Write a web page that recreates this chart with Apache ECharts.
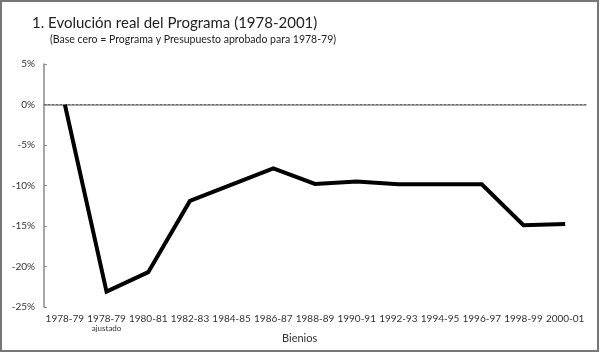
<!DOCTYPE html>
<html>
<head>
<meta charset="utf-8">
<script src="https://cdn.jsdelivr.net/npm/echarts@6/dist/echarts.min.js"></script>
<style>
  html, body { margin: 0; padding: 0; background: #fff; }
  #chart { width: 600px; height: 353px; }
</style>
</head>
<body>
<div id="chart"></div>
<script>
// Bienios (eje X) y evolución real (%)
var categories = ['1978-79', '1978-79\n{sub|ajustado}', '1980-81', '1982-83', '1984-85', '1986-87',
  '1988-89', '1990-91', '1992-93', '1994-95', '1996-97', '1998-99', '2000-01']
var values = [0, -23.1, -20.7, -11.9, -9.9, -7.9, -9.8, -9.5, -9.85, -9.85, -9.85, -14.9, -14.75]
var yTicks = [5, 0, -5, -10, -15, -20, -25]

var font = 'Lato, "Noto Sans", sans-serif'
var myChart = echarts.init(document.getElementById('chart'))

var option = {
  animation: false,
  backgroundColor: '#fff',
  title: [
    {
      text: '1. Evolución real del Programa (1978-2001)',
      left: 27,
      top: 11,
      textStyle: { fontFamily: font, fontSize: 15, fontWeight: 'normal', color: '#222' }
    },
    {
      text: '(Base cero = Programa y Presupuesto aprobado para 1978-79)',
      left: 45,
      top: 29,
      textStyle: { fontFamily: font, fontSize: 10.5, fontWeight: 'normal', color: '#222' }
    }
  ],
  graphic: [
    {
      type: 'rect',
      shape: { x: 1, y: 1, width: 597, height: 350 },
      style: { fill: 'none', stroke: '#777', lineWidth: 2 },
      silent: true
    },
    {
      type: 'text',
      left: 282,
      top: 333,
      style: { text: 'Bienios', fontFamily: font, fontSize: 11, fill: '#333' }
    }
  ],
  grid: {
    left: 44,
    right: 14,
    top: 64,
    bottom: 46
  },
  xAxis: {
    type: 'category',
    data: categories,
    boundaryGap: true,
    axisLine: { lineStyle: { color: '#888', width: 1.5 } },
    axisTick: { inside: true, length: 3, alignWithLabel: true, lineStyle: { color: '#888' } },
    axisLabel: {
      interval: 0,
      margin: 7,
      fontFamily: font,
      fontSize: 10,
      color: '#333',
      lineHeight: 10,
      rich: {
        sub: { fontFamily: font, fontSize: 8, color: '#333', lineHeight: 8 }
      }
    }
  },
  yAxis: {
    type: 'value',
    min: yTicks[yTicks.length - 1],
    max: yTicks[0],
    interval: 5,
    axisLine: { show: true, lineStyle: { color: '#888', width: 1.5 } },
    axisTick: { show: true, inside: true, length: 3, lineStyle: { color: '#888' } },
    axisLabel: {
      margin: 9,
      fontFamily: font,
      fontSize: 10,
      color: '#333',
      formatter: '{value}%'
    },
    splitLine: { show: false }
  },
  series: [
    {
      type: 'line',
      name: 'Evolución real',
      data: values,
      symbol: 'none',
      lineStyle: { color: '#000', width: 4, join: 'miter' },
      markLine: {
        silent: true,
        symbol: 'none',
        label: { show: false },
        lineStyle: { color: '#666', type: [2, 2], width: 1 },
        data: [{ yAxis: 0 }]
      }
    }
  ]
}

myChart.setOption(option)
</script>
</body>
</html>
